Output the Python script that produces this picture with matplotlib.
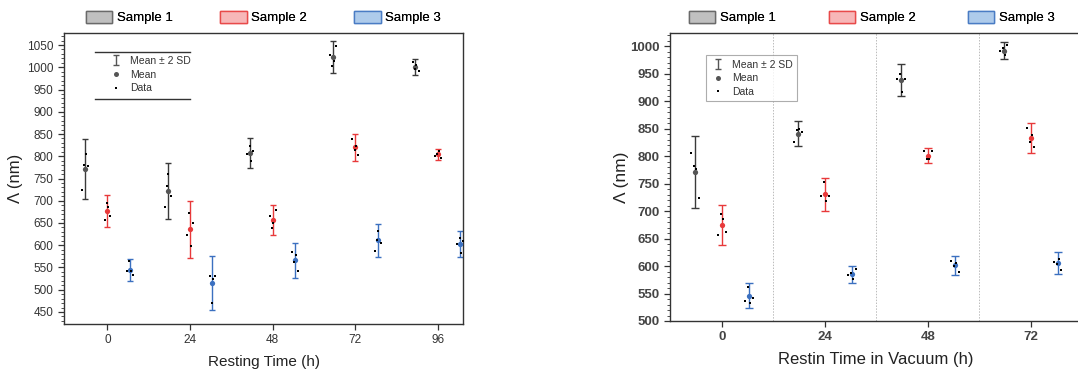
import matplotlib
matplotlib.use("Agg")
import matplotlib.pyplot as plt
from matplotlib.patches import Patch
from matplotlib.lines import Line2D
from matplotlib.ticker import MultipleLocator
import numpy as np

plt.rcParams['font.family'] = ['Liberation Sans', 'DejaVu Sans']

# ---------------- data ----------------
samples = ["Sample 1", "Sample 2", "Sample 3"]

times_left = [0, 24, 48, 72, 96]
s1_left_mean = [772, 722, 808, 1023, 1001]
s1_left_err = [67, 62, 34, 36, 18]
s1_left_data = [[725, 805, 781, 777], [760, 733, 710, 686], [822, 812, 805, 790],
                [1048, 1027, 1015, 1003], [1012, 1006, 995, 991]]
s2_left_mean = [676, 636, 657, 820, 804]
s2_left_err = [36, 64, 34, 31, 12]
s2_left_data = [[687, 695, 665, 657], [672, 649, 624, 599], [679, 665, 649, 638],
                [839, 823, 814, 802], [812, 805, 797, 801]]
s3_left_mean = [545, 515, 566, 611, 603]
s3_left_err = [25, 60, 40, 37, 30]
s3_left_data = [[564, 534, 543, 543], [531, 531, 524, 471], [584, 578, 562, 541],
                [633, 611, 606, 588], [617, 609, 602, 583]]

times_right = [0, 24, 48, 72]
s1_right_mean = [771, 841, 938, 992]
s1_right_err = [66, 22, 29, 16]
s1_right_data = [[805, 776, 782, 723], [850, 848, 843, 825], [950, 941, 941, 917],
                 [1002, 991, 984, 996]]
s2_right_mean = [675, 731, 801, 833]
s2_right_err = [36, 30, 14, 28]
s2_right_data = [[685, 695, 662, 656], [753, 728, 728, 718], [809, 810, 795, 795],
                 [851, 838, 826, 817]]
s3_right_mean = [546, 585, 601, 605]
s3_right_err = [23, 15, 17, 20]
s3_right_data = [[562, 541, 536, 532], [595, 584, 576, 587], [610, 605, 600, 590],
                 [613, 604, 593, 608]]

# ---------------- styles ----------------
line_colors = ["#3a3a3a", "#e8393a", "#3b70c0"]
mean_colors = ["#555555", "#e8393a", "#3b70c0"]
patch_face = ["#c0c0c0", "#f7b7b8", "#aecbeb"]
patch_edge = ["#6a6a6a", "#e84a4a", "#4a7cc4"]
jitter = [-0.8, 0.25, -0.15, 0.9]

fig = plt.figure(figsize=(10.78, 3.8), dpi=100)

ax1 = fig.add_axes([64/1078, 1-324/380, 399/1078, 291/380])
ax2 = fig.add_axes([670/1078, 1-321/380, 412/1078, 288/380])


def draw_panel(ax, times, means, errs, datas, offset, capsize, fs_tick):
    for k in range(3):
        xs = np.array(times, dtype=float) + (k - 1) * offset
        ax.errorbar(xs, means[k], yerr=errs[k], fmt='none', ecolor=line_colors[k],
                    elinewidth=1.0, capsize=capsize, capthick=1.0, zorder=2)
        for i, x in enumerate(xs):
            vals = datas[k][i]
            jit = [jitter[(j + i + k) % len(jitter)] for j in range(len(vals))]
            ax.plot(x + np.array(jit), vals, 's', color='black', ms=1.9, mew=0, zorder=4)
        ax.plot(xs, means[k], 'o', color=mean_colors[k], ms=3.8, mew=0, zorder=3)
    ax.set_xticks(times)
    ax.yaxis.set_minor_locator(MultipleLocator(10))
    ax.tick_params(axis='both', which='major', direction='out', length=4, width=0.9,
                   labelsize=fs_tick, colors='#333333')
    ax.tick_params(axis='y', which='minor', direction='out', length=2, width=0.6, colors='#333333')
    for sp in ax.spines.values():
        sp.set_linewidth(1.0)
        sp.set_color('#333333')


draw_panel(ax1, times_left, [s1_left_mean, s2_left_mean, s3_left_mean],
           [s1_left_err, s2_left_err, s3_left_err],
           [s1_left_data, s2_left_data, s3_left_data], 6.5, 2.4, 8.5)
ax1.set_xlim(-12.6, 103.3)
ax1.set_ylim(423, 1077)
ax1.yaxis.set_major_locator(MultipleLocator(50))
ax1.set_xlabel("Resting Time (h)", fontsize=11, color='#222222', labelpad=6)
ax1.set_ylabel("Λ (nm)", fontsize=12, color='#222222', labelpad=3)

draw_panel(ax2, times_right, [s1_right_mean, s2_right_mean, s3_right_mean],
           [s1_right_err, s2_right_err, s3_right_err],
           [s1_right_data, s2_right_data, s3_right_data], 6.3, 2.8, 9.5)
ax2.set_xlim(-12.1, 84)
ax2.set_ylim(500, 1024)
ax2.yaxis.set_major_locator(MultipleLocator(50))
for xv in [12, 36, 60]:
    ax2.axvline(xv, color='#bbbbbb', lw=0.7, ls=(0, (1.5, 1.5)), zorder=1)
ax2.set_xlabel("Restin Time in Vacuum (h)", fontsize=12, color='#222222', labelpad=6)
ax2.set_ylabel("Λ (nm)", fontsize=12.5, color='#222222', labelpad=1)
for lab in ax2.get_xticklabels() + ax2.get_yticklabels():
    lab.set_fontweight('bold')
    lab.set_color('#444444')


def legend_handles(ax):
    eb = ax.errorbar([np.nan], [np.nan], yerr=[1], fmt='none', ecolor='#555555',
                     elinewidth=1.0, capsize=2.5, capthick=1.0)
    mean_h = Line2D([0], [0], ls='none', marker='o', color='#555555', ms=3.6, mew=0)
    data_h = Line2D([0], [0], ls='none', marker='s', color='black', ms=1.8, mew=0)
    return [eb, mean_h, data_h], ["Mean ± 2 SD", "Mean", "Data"]


h, l = legend_handles(ax1)
leg1 = ax1.legend(h, l, loc='upper left', bbox_to_anchor=(0.09, 0.95), frameon=False,
                  fontsize=7.5, handlelength=1.4, handletextpad=0.7, labelspacing=0.35,
                  borderpad=0.3)
for t in leg1.get_texts():
    t.set_color('#333333')
ax1.plot([0.078, 0.316], [0.935, 0.935], transform=ax1.transAxes, color='#333333', lw=1.0)
ax1.plot([0.078, 0.316], [0.773, 0.773], transform=ax1.transAxes, color='#333333', lw=1.0)

h, l = legend_handles(ax2)
leg2 = ax2.legend(h, l, loc='upper left', bbox_to_anchor=(0.075, 0.94), frameon=True,
                  fancybox=False, edgecolor='#999999', fontsize=7.5, handlelength=1.4,
                  handletextpad=0.7, labelspacing=0.35, borderpad=0.4)
leg2.get_frame().set_linewidth(0.8)
for t in leg2.get_texts():
    t.set_color('#333333')

# top sample legends
patches = [Patch(facecolor=patch_face[k], edgecolor=patch_edge[k], lw=1.0, label=samples[k])
           for k in range(3)]
for ax, cs in [(ax1, 3.6), (ax2, 4.0)]:
    lg = ax.legend(handles=patches, loc='lower center', ncol=3, frameon=False,
                   bbox_to_anchor=(0.5 if ax is ax1 else 0.49, 1.0), fontsize=9.5,
                   handlelength=2.0, handleheight=1.1, handletextpad=0.35,
                   columnspacing=cs, borderaxespad=0.25)
    ax.add_artist(lg)
ax1.add_artist(leg1)
ax2.add_artist(leg2)

fig.savefig("out.png", dpi=100)
